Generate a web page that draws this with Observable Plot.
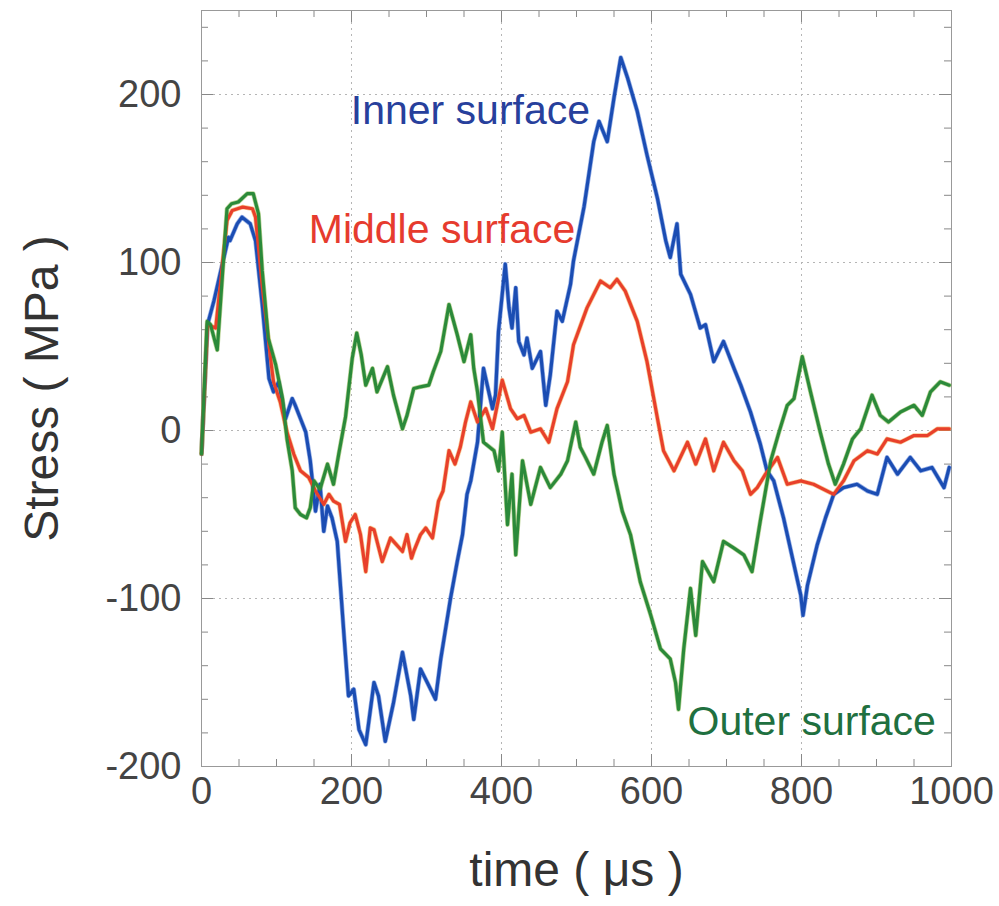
<!DOCTYPE html>
<html><head><meta charset="utf-8">
<script src="https://cdn.jsdelivr.net/npm/d3@7"></script>
<script src="https://cdn.jsdelivr.net/npm/@observablehq/plot@0.6"></script>
<style>body{margin:0;background:#fff}#chart svg{display:block}</style>
</head><body><div id="chart"></div>
<script>
// Inner surface (blue)
const innerT = [0,8,16.5,36,38,47.6,54,65,72,81,90,96,103,112,121,125,132,139,145,152,158,163,168,174,181,190,196,203,210,219,230,236,245,256,268,279,283,292,301,312,319,332,341,348,354,359,368,376,380,388,392,396,405,410,414,419,423,430,434,441,452,459,465,474,481,492,496,510,523,530,541,550,559,568,581,594,608,619,625,634,639,652,665,672,683,696,710,719,732,745,754,763,776,788,799,802,808,821,832,843,856,874,888,901,914,928,945,959,974,990,997];
const innerV = [-14,63,77,115,113,123,127,123,113,75,31,23,29,7,19,15,7,-1,-18,-48,-32,-60,-45,-52,-66,-122,-158,-154,-178,-187,-150,-158,-185,-162,-132,-158,-172,-142,-150,-160,-136,-100,-78,-62,-38,-30,-7,37,29,13,21,59,99,73,61,85,53,45,55,37,47,15,33,71,65,87,101,133,172,184,172,198,222,210,190,164,138,113,103,123,93,81,61,63,41,53,37,27,11,-8,-24,-30,-52,-76,-98,-110,-92,-68,-52,-38,-34,-32,-36,-38,-16,-26,-16,-24,-22,-34,-22];
// Middle surface (red)
const middleT = [0,8,19,34,41,55,68,72,81,92,96,105,114,123,132,143,152,163,170,176,184,192,198,205,212,219,225,230,241,252,256,268,274,280,283,292,299,308,316,322,330,338,345,352,359,368,379,388,401,412,421,430,439,452,463,474,488,496,514,532,545,554,565,581,594,608,616,630,648,659,672,683,696,710,721,732,741,752,768,781,799,816,843,856,870,888,901,914,932,950,968,981,997];
const middleV = [-14,63,61,125,131,133,132,127,85,43,29,17,-1,-14,-24,-28,-36,-44,-38,-42,-44,-66,-55,-50,-62,-84,-58,-59,-78,-64,-66,-72,-62,-76,-72,-62,-58,-64,-42,-36,-12,-20,-10,5,17,5,13,1,30,13,7,9,-1,1,-7,13,29,51,73,89,85,90,83,65,41,7,-12,-24,-7,-20,-5,-24,-7,-18,-24,-38,-34,-26,-16,-32,-30,-32,-38,-30,-18,-12,-14,-5,-7,-3,-3,1,1];
// Outer surface (green)
const outerT = [0,7.6,12,21,34,40,49,61,69,76,81,89,99,108,114,121,125,132,140,145,150,158,168,176,183,192,201,207,213,219,228,234,248,256,268,274,283,292,303,309,319,330,341,350,359,363,368,376,390,396,401,408,414,419,428,439,452,465,479,488,499,505,512,523,534,541,550,561,572,585,599,612,625,632,636,643,652,659,668,683,696,710,723,734,745,759,770,781,790,801,812,825,836,845,856,868,879,894,905,916,932,950,961,972,985,997];
const outerV = [-14,65,63,48,132,135,136,141,141,129,95,55,39,19,-5,-24,-46,-50,-52,-46,-30,-35,-20,-32,-14,8,43,58,45,27,37,23,38,21,1,9,25,26,27,35,47,75,57,41,57,37,23,-7,-12,-24,-1,-56,-26,-74,-18,-44,-22,-34,-26,-18,5,-10,-16,-26,-7,3,-26,-48,-62,-90,-110,-130,-136,-150,-166,-130,-94,-122,-78,-90,-66,-70,-74,-84,-54,-18,-1,15,19,44,23,-1,-20,-32,-20,-5,1,21,9,5,11,15,9,23,29,27];

const seriesNames = ["Inner surface","Middle surface","Outer surface"];
const lineColors = ["#1b4db3","#e8402b","#2b8a3a"];
const haloColors = ["#3a6ad0","#f39a3a","#7fb040"];
const labelColors = ["#27409c","#e63b2e","#1f7040"];
const labelT = [199,143,648];
const labelV = [182.5,111.7,-181.5];

const xTicks = [0,200,400,600,800,1000];
const yTicks = [-200,-100,0,100,200];
const xGrid = [200,400,600,800];
const yGrid = [-100,0,100,200];
const xMinor = [50,100,150,250,300,350,450,500,550,650,700,750,850,900,950];
const yMinor = [-180,-160,-140,-120,-80,-60,-40,-20,20,40,60,80,120,140,160,180,220,240];

const W = 999, H = 906, mL = 201, mR = 48, mT = 10, mB = 140;
const iW = W - mL - mR, iH = H - mT - mB;

const rows = [];
[[innerT,innerV],[middleT,middleV],[outerT,outerV]].forEach(([T,V],i) => {
  T.forEach((t,j) => rows.push({series: seriesNames[i], t, v: V[j]}));
});
const labels = seriesNames.map((s,i) => ({s, t: labelT[i], v: labelV[i], c: labelColors[i]}));
const colorOf = d => lineColors[seriesNames.indexOf(d.series)];
const haloOf = d => haloColors[seriesNames.indexOf(d.series)];

const tickStroke = "#888";
const gridStyle = {stroke: "#b5b5b5", strokeOpacity: 1, strokeDasharray: "2,4", strokeWidth: 1};
const chart = Plot.plot({
  width: W, height: H, marginLeft: mL, marginRight: mR, marginTop: mT, marginBottom: mB,
  x: {domain: [0,1000]},
  y: {domain: [-200,250]},
  style: {fontFamily: '"Liberation Sans", Arial, Helvetica, sans-serif', background: "#fff", color: "#444"},
  marks: [
    Plot.gridX(xGrid, gridStyle),
    Plot.gridY(yGrid, gridStyle),
    // inward minor ticks, four sides
    Plot.tickX(xMinor, {x: d => d, insetTop: iH - 7, stroke: tickStroke}),
    Plot.tickX(xMinor, {x: d => d, insetBottom: iH - 7, stroke: tickStroke}),
    Plot.tickY(yMinor, {y: d => d, insetRight: iW - 7, stroke: tickStroke}),
    Plot.tickY(yMinor, {y: d => d, insetLeft: iW - 7, stroke: tickStroke}),
    // inward major ticks
    Plot.tickX(xGrid, {x: d => d, insetTop: iH - 12, stroke: tickStroke}),
    Plot.tickX(xGrid, {x: d => d, insetBottom: iH - 12, stroke: tickStroke}),
    Plot.tickY(yGrid, {y: d => d, insetRight: iW - 12, stroke: tickStroke}),
    Plot.tickY(yGrid, {y: d => d, insetLeft: iW - 12, stroke: tickStroke}),
    Plot.frame({stroke: "#999"}),
    Plot.axisX({ticks: xTicks, tickSize: 0, tickPadding: 11, fontSize: 38, label: null, tickFormat: d => String(d), fill: "#444"}),
    Plot.axisY({ticks: yTicks, tickSize: 0, tickPadding: 20, fontSize: 38, label: null, tickFormat: d => String(d), fill: "#444"}),
    Plot.line(rows, {x: "t", y: "v", z: "series", stroke: haloOf, strokeWidth: 4.6, strokeOpacity: 0.55, strokeLinejoin: "round"}),
    Plot.line(rows, {x: "t", y: "v", z: "series", stroke: colorOf, strokeWidth: 3.2, strokeLinejoin: "round"}),
    Plot.text(labels, {x: "t", y: "v", text: "s", fill: "c", fontSize: 41, textAnchor: "start", lineAnchor: "bottom"}),
    Plot.text(["Stress ( MPa )"], {frameAnchor: "left", dx: -159, rotate: -90, fontSize: 48, fill: "#333", textAnchor: "middle", lineAnchor: "middle"}),
    Plot.text(["time ( \u03bcs )"], {frameAnchor: "bottom", dy: 104, fontSize: 48, fill: "#333", textAnchor: "middle", lineAnchor: "middle"})
  ]
});
document.getElementById("chart").appendChild(chart);
</script>
</body></html>
